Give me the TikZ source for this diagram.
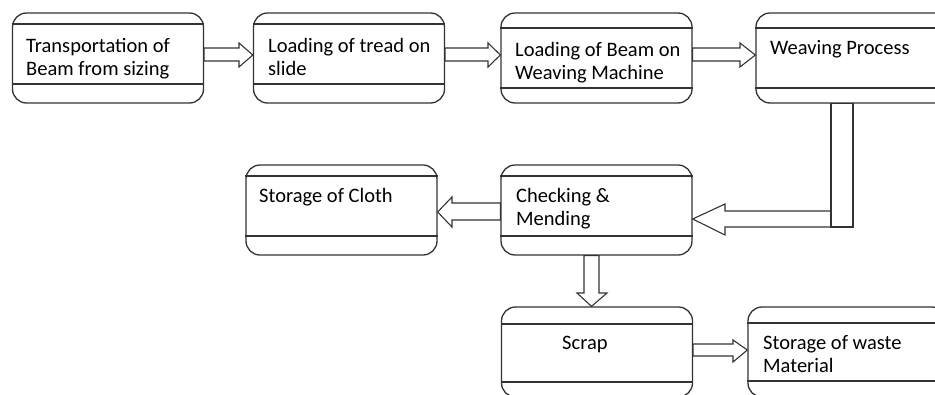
\documentclass[tikz,border=0pt]{standalone}
\usepackage{fontspec}
\setmainfont{Carlito}
\begin{document}
\begin{tikzpicture}[x=1pt,y=-1pt,
  stage/.style={draw=black!80,line width=1.3pt,rounded corners=14pt,minimum width=191pt,minimum height=90pt,inner sep=0pt},
  band/.style={draw=black!80,line width=1.3pt},
  flow/.style={draw=black!80,line width=1.1pt,fill=white,line join=miter},
  caption/.style={anchor=base west,inner sep=0pt,align=left,font=\fontsize{20.5}{23}\selectfont}]
\useasboundingbox (0,0) rectangle (935,394);
% Boxes
\node[stage] (transport) at (108,58) {};
\node[stage] (tread) at (349,58) {};
\node[stage] (beamload) at (596.5,58) {};
\node[stage,minimum width=198pt] (weaving) at (855,58) {};
\node[stage] (cloth) at (341.5,210) {};
\node[stage] (checking) at (596.5,210) {};
\node[stage] (scrap) at (597,352) {};
\node[stage,minimum width=198pt] (waste) at (847,352) {};
% Bands
\foreach \stagename/\ya/\yb in {transport/24/84,tread/24/84,beamload/28/88,weaving/28/88,cloth/176/236,checking/176/236,scrap/324/382,waste/323/381}{
  \draw[band] (\stagename.west |- 0,\ya) -- (\stagename.east |- 0,\ya);
  \draw[band] (\stagename.west |- 0,\yb) -- (\stagename.east |- 0,\yb);
}
% Texts (base = last line)
\node[caption] (transporttext) at (26,75) {Transportation of\\Beam from sizing};
\node[caption] (treadtext) at (268,75) {Loading of tread on\\slide};
\node[caption] (beamloadtext) at (515,79) {Loading of Beam on\\Weaving Machine};
\node[caption] (weavingtext) at (770,54) {Weaving Process};
\node[caption] (clothtext) at (259,202) {Storage of Cloth};
\node[caption] (checkingtext) at (516,225) {Checking \&\\Mending};
\node[caption] (scraptext) at (562,349) {Scrap};
\node[caption] (wastetext) at (763,372) {Storage of waste\\Material};
% Top row arrows
\draw[flow] (transport.east |- 0,48) -- (239,48) -- (239,43) -- (tread.west |- 0,55) -- (239,67) -- (239,61) -- (transport.east |- 0,61) -- cycle;
\draw[flow] (tread.east |- 0,48) -- (488,48) -- (488,43) -- (beamload.west |- 0,55) -- (488,67) -- (488,61) -- (tread.east |- 0,61) -- cycle;
\draw[flow] (beamload.east |- 0,48) -- (740,48) -- (740,43) -- (weaving.west |- 0,55) -- (740,67) -- (740,61) -- (beamload.east |- 0,61) -- cycle;
% Return arrow
\draw[flow] (831,211) -- (725,211) -- (725,204) -- (checking.east |- 0,219) -- (725,235) -- (725,227) -- (831,227);
\draw[flow] (831,0 |- weaving.south) rectangle (853,227);
% Lower arrows
\draw[flow] (checking.west |- 0,203) -- (452,203) -- (452,197) -- (cloth.east |- 0,212) -- (452,227) -- (452,220) -- (checking.west |- 0,220) -- cycle;
\draw[flow] (584,0 |- checking.south) -- (584,293) -- (577,293) -- (591.5,0 |- scrap.north) -- (607,293) -- (599,293) -- (599,0 |- checking.south) -- cycle;
\draw[flow] (scrap.east |- 0,344) -- (733,344) -- (733,340) -- (waste.west |- 0,350) -- (733,362) -- (733,356) -- (scrap.east |- 0,356) -- cycle;
\end{tikzpicture}
\end{document}
